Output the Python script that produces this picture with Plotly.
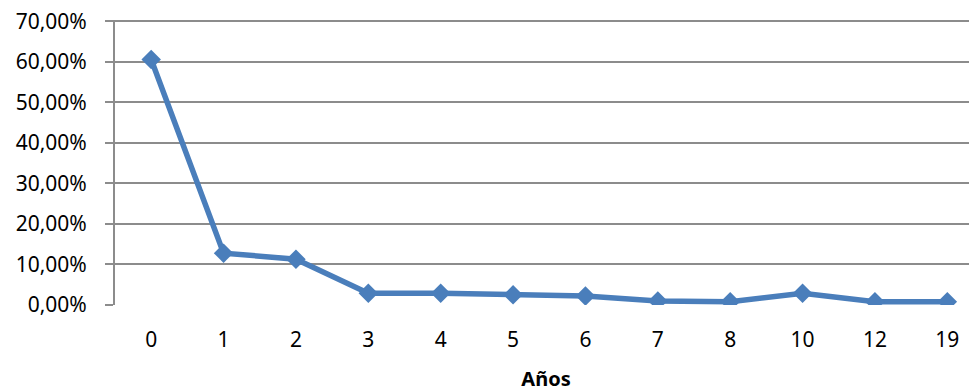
import plotly.graph_objects as go

categories = ["0", "1", "2", "3", "4", "5", "6", "7", "8", "10", "12", "19"]
values = [0.606, 0.128, 0.113, 0.029, 0.029, 0.025, 0.022, 0.010, 0.008, 0.029, 0.008, 0.008]
y_ticks = [0, 0.1, 0.2, 0.3, 0.4, 0.5, 0.6, 0.7]
y_tick_labels = ["0,00%", "10,00%", "20,00%", "30,00%", "40,00%", "50,00%", "60,00%", "70,00%"]

fig = go.Figure()
fig.add_trace(go.Scatter(
    x=list(range(len(categories))), y=values, mode="lines+markers",
    line=dict(color="#4A7EBB", width=5.5),
    marker=dict(symbol="diamond", size=15, color="#4A7EBB"),
    showlegend=False, hoverinfo="skip",
))

# page body has an 8px margin, so the figure is shifted by 8px
fig.update_layout(
    width=969, height=384,
    margin=dict(l=107, r=0, t=12, b=87),
    paper_bgcolor="white", plot_bgcolor="white",
    font=dict(family="Noto Sans", size=21, color="#000000"),
    xaxis=dict(
        range=[-0.5, 11.41], tickmode="array",
        tickvals=list(range(len(categories))), ticktext=categories,
        showgrid=False, zeroline=False, showline=False, ticks="",
        tickfont=dict(size=21), ticklabelstandoff=20,
        title=dict(text="<b>Años</b>", font=dict(size=20), standoff=24),
    ),
    yaxis=dict(
        range=[0, 0.7035], tickmode="array", tickvals=y_ticks, ticktext=y_tick_labels,
        showgrid=True, gridcolor="#8C8C8C", gridwidth=2,
        zeroline=False, showline=True, linecolor="#8C8C8C", linewidth=2,
        ticks="outside", ticklen=8, tickcolor="#8C8C8C", tickwidth=2,
        tickfont=dict(size=21), ticklabelstandoff=14, ticklabeloverflow="allow",
    ),
)
fig.write_html("out.html")
